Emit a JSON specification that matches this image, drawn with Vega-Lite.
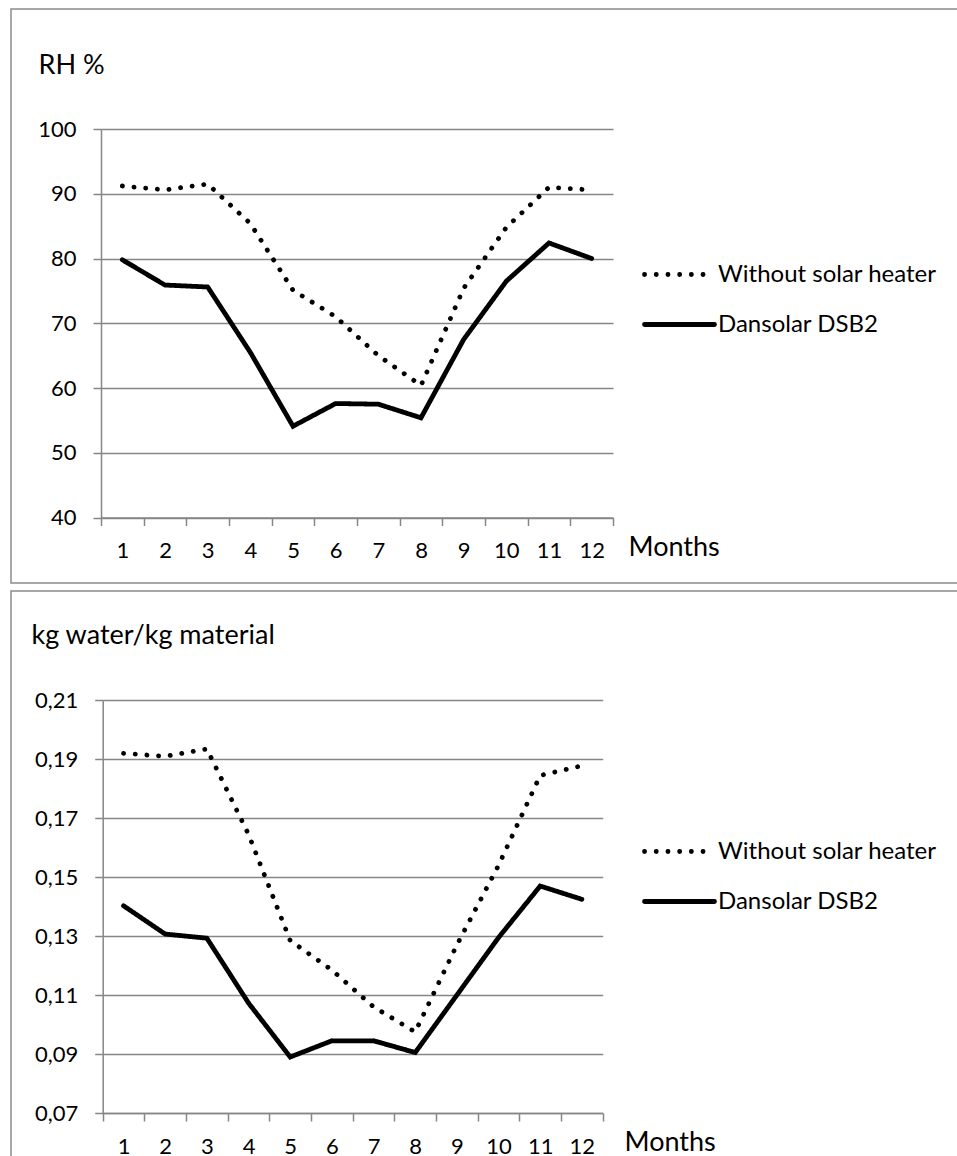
{
  "$schema": "https://vega.github.io/schema/vega-lite/v6.json",
  "background": "white",
  "padding": {"left": 10, "top": 8, "right": 0, "bottom": 0},
  "spacing": 6,
  "resolve": {
    "scale": {"strokeDash": "independent"},
    "legend": {"strokeDash": "independent"}
  },
  "vconcat": [
    {
      "width": 950,
      "height": 574,
      "data": {
        "values": [
          {"month": 1, "series": "Without solar heater", "value": 91.2},
          {"month": 2, "series": "Without solar heater", "value": 90.6},
          {"month": 3, "series": "Without solar heater", "value": 91.5},
          {"month": 4, "series": "Without solar heater", "value": 85.4},
          {"month": 5, "series": "Without solar heater", "value": 75.1},
          {"month": 6, "series": "Without solar heater", "value": 71},
          {"month": 7, "series": "Without solar heater", "value": 65},
          {"month": 8, "series": "Without solar heater", "value": 60.4},
          {"month": 9, "series": "Without solar heater", "value": 75.4},
          {"month": 10, "series": "Without solar heater", "value": 84.8},
          {"month": 11, "series": "Without solar heater", "value": 91},
          {"month": 12, "series": "Without solar heater", "value": 90.6},
          {"month": 1, "series": "Dansolar DSB2", "value": 79.8},
          {"month": 2, "series": "Dansolar DSB2", "value": 75.9},
          {"month": 3, "series": "Dansolar DSB2", "value": 75.6},
          {"month": 4, "series": "Dansolar DSB2", "value": 65.5},
          {"month": 5, "series": "Dansolar DSB2", "value": 54.1},
          {"month": 6, "series": "Dansolar DSB2", "value": 57.6},
          {"month": 7, "series": "Dansolar DSB2", "value": 57.5},
          {"month": 8, "series": "Dansolar DSB2", "value": 55.4},
          {"month": 9, "series": "Dansolar DSB2", "value": 67.5},
          {"month": 10, "series": "Dansolar DSB2", "value": 76.5},
          {"month": 11, "series": "Dansolar DSB2", "value": 82.4},
          {"month": 12, "series": "Dansolar DSB2", "value": 80}
        ]
      },
      "mark": {"type": "line", "color": "black", "strokeWidth": 4.8, "strokeCap": "round"},
      "encoding": {
        "x": {
          "field": "month",
          "type": "ordinal",
          "scale": {"range": [90, 602], "paddingInner": 0, "paddingOuter": 0},
          "axis": {
            "offset": -65.5,
            "tickBand": "extent",
            "labelAngle": 0,
            "labelPadding": 15,
            "title": "Months",
            "titleX": 617,
            "titleY": 37.5,
            "titleAlign": "left",
            "titleBaseline": "alphabetic"
          }
        },
        "y": {
          "field": "value",
          "type": "quantitative",
          "scale": {"domain": [40, 100], "range": [508.5, 120], "nice": false, "zero": false},
          "axis": {
            "offset": -90,
            "values": [40, 50, 60, 70, 80, 90, 100],
            "labelPadding": 17,
            "title": "RH %",
            "titleAngle": 0,
            "titleX": -63,
            "titleY": 64,
            "titleAlign": "left",
            "titleBaseline": "alphabetic"
          }
        },
        "strokeDash": {
          "field": "series",
          "type": "nominal",
          "scale": {
            "domain": ["Without solar heater", "Dansolar DSB2"],
            "range": [[0.1, 11.6], [1, 0]]
          },
          "legend": {
            "orient": "none",
            "legendX": 631,
            "legendY": 228,
            "rowPadding": -34,
            "title": null,
            "encode": {
              "symbols": {"update": {"strokeCap": {"value": "round"}}}
            }
          }
        }
      }
    },
    {
      "width": 950,
      "height": 580,
      "data": {
        "values": [
          {"month": 1, "series": "Without solar heater", "value": 0.192},
          {"month": 2, "series": "Without solar heater", "value": 0.191},
          {"month": 3, "series": "Without solar heater", "value": 0.1935},
          {"month": 4, "series": "Without solar heater", "value": 0.1645},
          {"month": 5, "series": "Without solar heater", "value": 0.1285},
          {"month": 6, "series": "Without solar heater", "value": 0.1185},
          {"month": 7, "series": "Without solar heater", "value": 0.106},
          {"month": 8, "series": "Without solar heater", "value": 0.0975},
          {"month": 9, "series": "Without solar heater", "value": 0.127},
          {"month": 10, "series": "Without solar heater", "value": 0.154},
          {"month": 11, "series": "Without solar heater", "value": 0.1845},
          {"month": 12, "series": "Without solar heater", "value": 0.1878},
          {"month": 1, "series": "Dansolar DSB2", "value": 0.1403},
          {"month": 2, "series": "Dansolar DSB2", "value": 0.1307},
          {"month": 3, "series": "Dansolar DSB2", "value": 0.1293},
          {"month": 4, "series": "Dansolar DSB2", "value": 0.1073},
          {"month": 5, "series": "Dansolar DSB2", "value": 0.089},
          {"month": 6, "series": "Dansolar DSB2", "value": 0.0945},
          {"month": 7, "series": "Dansolar DSB2", "value": 0.0945},
          {"month": 8, "series": "Dansolar DSB2", "value": 0.0905},
          {"month": 9, "series": "Dansolar DSB2", "value": 0.11},
          {"month": 10, "series": "Dansolar DSB2", "value": 0.1295},
          {"month": 11, "series": "Dansolar DSB2", "value": 0.147},
          {"month": 12, "series": "Dansolar DSB2", "value": 0.1425}
        ]
      },
      "mark": {"type": "line", "color": "black", "strokeWidth": 4.8, "strokeCap": "round"},
      "encoding": {
        "x": {
          "field": "month",
          "type": "ordinal",
          "scale": {"range": [91.7, 591.7], "paddingInner": 0, "paddingOuter": 0},
          "axis": {
            "offset": -58,
            "tickBand": "extent",
            "labelAngle": 0,
            "labelPadding": 15,
            "title": "Months",
            "titleX": 613,
            "titleY": 37,
            "titleAlign": "left",
            "titleBaseline": "alphabetic"
          }
        },
        "y": {
          "field": "value",
          "type": "quantitative",
          "scale": {"domain": [0.07, 0.21], "range": [522, 109.3], "nice": false, "zero": false},
          "axis": {
            "offset": -91.7,
            "values": [0.07, 0.09, 0.11, 0.13, 0.15, 0.17, 0.19, 0.21],
            "format": ".2f",
            "labelPadding": 17,
            "title": "kg water/kg material",
            "titleAngle": 0,
            "titleX": -71.7,
            "titleY": 52,
            "titleAlign": "left",
            "titleBaseline": "alphabetic"
          }
        },
        "strokeDash": {
          "field": "series",
          "type": "nominal",
          "scale": {
            "domain": ["Without solar heater", "Dansolar DSB2"],
            "range": [[0.1, 11.6], [1, 0]]
          },
          "legend": {
            "orient": "none",
            "legendX": 631,
            "legendY": 223,
            "rowPadding": -27.5,
            "title": null,
            "encode": {
              "symbols": {"update": {"strokeCap": {"value": "round"}}}
            }
          }
        }
      }
    }
  ],
  "config": {
    "font": "Lato",
    "locale": {
      "number": {"decimal": ",", "thousands": ".", "grouping": [3], "currency": ["", " €"]}
    },
    "view": {"stroke": "#8c8c8c", "strokeWidth": 1.5},
    "axis": {
      "grid": false,
      "domainColor": "#868686",
      "domainWidth": 1.5,
      "tickColor": "#868686",
      "tickWidth": 1.5,
      "tickSize": 8,
      "labelFont": "Lato",
      "labelFontSize": 22,
      "labelColor": "black",
      "titleFont": "Lato",
      "titleFontSize": 27,
      "titleFontWeight": "normal",
      "titleColor": "black",
      "titlePadding": 0
    },
    "axisY": {"grid": true, "gridColor": "#868686", "gridWidth": 1.5},
    "legend": {
      "symbolType": "stroke",
      "symbolSize": 4900,
      "symbolStrokeWidth": 4.8,
      "symbolStrokeColor": "black",
      "labelFont": "Lato",
      "labelFontSize": 24,
      "labelColor": "black",
      "labelLimit": 0,
      "labelOffset": 1,
      "padding": 0,
      "offset": 0
    }
  }
}
